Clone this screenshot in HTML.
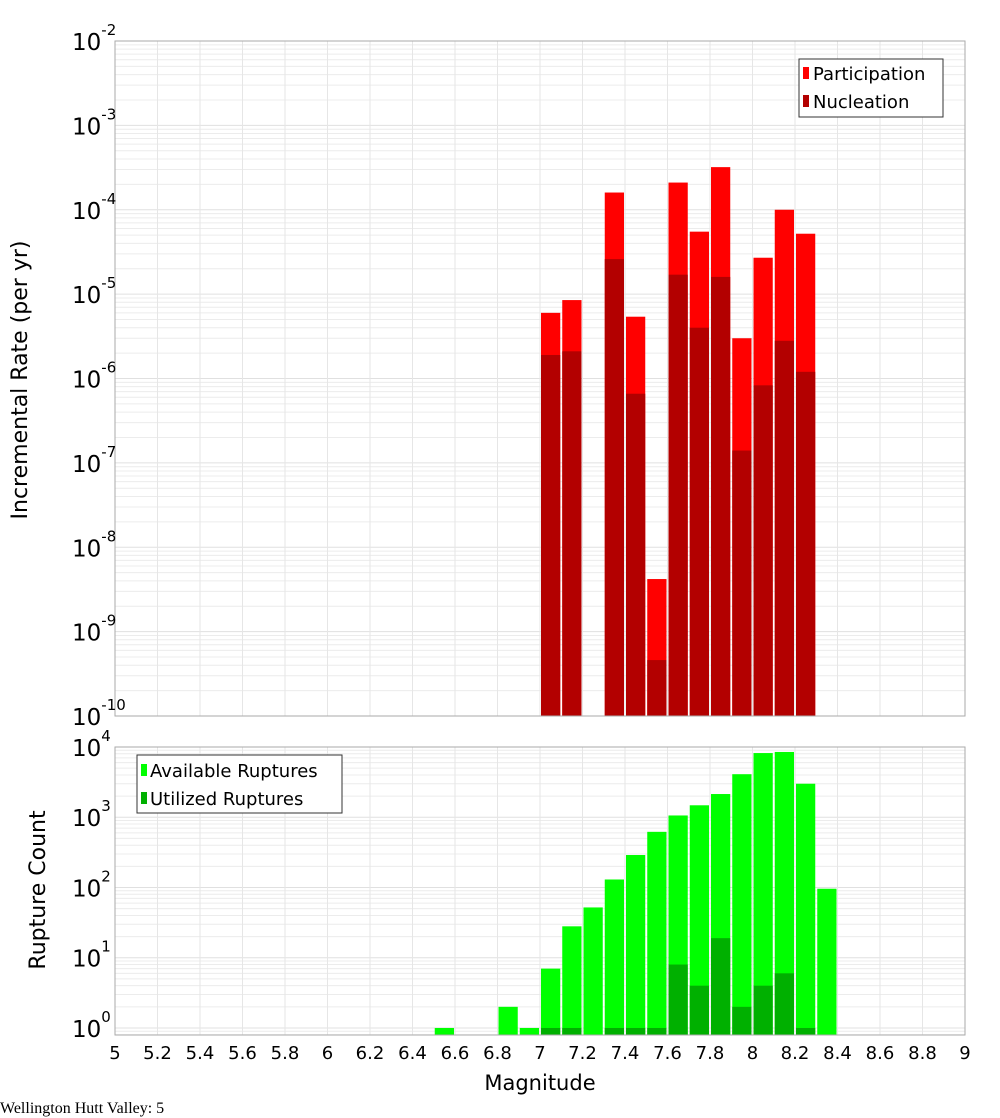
<!DOCTYPE html>
<html><head><meta charset="utf-8"><style>
body{margin:0;background:#fff;}
svg{display:block;font-family:"DejaVu Sans","Liberation Sans",sans-serif;}
</style></head><body>
<svg id="c" width="1000" height="1100"></svg>
<script>
const mags = [7.0,7.1,7.3,7.4,7.5,7.6,7.7,7.8,7.9,8.0,8.1,8.2];
const participation = [6e-6,8.5e-6,1.6e-4,5.4e-6,4.2e-9,2.1e-4,5.5e-5,3.2e-4,3e-6,2.7e-5,1e-4,5.2e-5];
const nucleation = [1.9e-6,2.1e-6,2.6e-5,6.6e-7,4.6e-10,1.7e-5,4e-6,1.6e-5,1.4e-7,8.3e-7,2.8e-6,1.2e-6];
const countMags = [6.5,6.8,6.9,7.0,7.1,7.2,7.3,7.4,7.5,7.6,7.7,7.8,7.9,8.0,8.1,8.2,8.3];
const available = [1,2,1,7,28,52,130,290,620,1060,1480,2140,4100,8200,8500,3000,96];
const utilizedMags = [7.0,7.1,7.3,7.4,7.5,7.6,7.7,7.8,7.9,8.0,8.1,8.2];
const utilized = [1,1,1,1,1,8,4,19,2,4,6,1];
const xTicks = [5,5.2,5.4,5.6,5.8,6,6.2,6.4,6.6,6.8,7,7.2,7.4,7.6,7.8,8,8.2,8.4,8.6,8.8,9];
const topExps = [-2,-3,-4,-5,-6,-7,-8,-9,-10];
const botExps = [4,3,2,1,0];

const svg=document.getElementById('c');const NS='http://www.w3.org/2000/svg';
function el(t,a,p){const e=document.createElementNS(NS,t);for(const k in a)e.setAttribute(k,a[k]);(p||svg).appendChild(e);return e;}
const X0=115,X1=965;
const x=m=>X0+(m-5)/4*(X1-X0);
const T={top:41,bot:716,lo:-10,hi:-2};
const B={top:747,bot:1035,lo:-0.1,hi:4.0};
const yT=v=>T.bot-(Math.log10(v)-T.lo)/(T.hi-T.lo)*(T.bot-T.top);
const yB=v=>B.bot-(Math.log10(v)-B.lo)/(B.hi-B.lo)*(B.bot-B.top);

function grid(P,yf){
  const g=el('g',{});
  for(let e=Math.floor(P.lo);e<P.hi;e++)for(let k=1;k<10;k++){const v=k*Math.pow(10,e);const lv=Math.log10(v);if(lv<P.lo||lv>P.hi)continue;const yy=yf(v);
    el('line',{x1:X0,x2:X1,y1:yy,y2:yy,stroke:k==1?'#e0e0e0':'#ececec','stroke-width':1},g);}
  xTicks.forEach(t=>{el('line',{x1:x(t),x2:x(t),y1:P.top,y2:P.bot,stroke:'#e6e6e6'},g);});
}
grid(T,yT);grid(B,yB);

function bar(m,v,yf,P,fill,name){const r=el('rect',{x:x(m)+1,y:yf(v),width:x(m+0.1)-x(m)-2,height:P.bot-yf(v),fill:fill});
  }
mags.forEach((m,i)=>bar(m,participation[i],yT,T,'#ff0000','participation-bar'));
mags.forEach((m,i)=>bar(m,nucleation[i],yT,T,'#b30000','nucleation-bar'));
countMags.forEach((m,i)=>bar(m,available[i],yB,B,'#00ff00','available-bar'));
utilizedMags.forEach((m,i)=>bar(m,utilized[i],yB,B,'#00b000','utilized-bar'));

[T,B].forEach(P=>el('rect',{x:X0,y:P.top,width:X1-X0,height:P.bot-P.top,fill:'none',stroke:'#aaa'}));

// y tick labels
topExps.forEach(e=>{const yy=yT(Math.pow(10,e));const t=el('text',{x:72,y:yy+9,'font-size':23,fill:'#000'});
  
  t.textContent='10';const s=el('tspan',{dy:-15,'font-size':15},t);s.textContent=String(e);});
botExps.forEach(e=>{const yy=yB(Math.pow(10,e));const t=el('text',{x:72,y:yy+9,'font-size':23,fill:'#000'});
  
  t.textContent='10';const s=el('tspan',{dy:-15,'font-size':15},t);s.textContent=String(e);});
xTicks.forEach(v=>{const t=el('text',{x:x(v),y:1059,'font-size':18,'text-anchor':'middle'});
  
  t.textContent=String(Math.round(v*10)/10);});
</script>
<text x="520" y="22" font-size="21" font-weight="bold" text-anchor="middle" font-family="DejaVu Sans, Liberation Sans, sans-serif">Wellington Hutt Valley: 5</text>
<script>
const s2=document.getElementById('c');
function add(h){s2.insertAdjacentHTML('beforeend',h);}
add('<text x="540" y="1090" font-size="21" text-anchor="middle">Magnitude</text>');
add('<text transform="translate(27,380) rotate(-90)" font-size="22" text-anchor="middle">Incremental Rate (per yr)</text>');
add('<text transform="translate(45,890) rotate(-90)" font-size="22" text-anchor="middle">Rupture Count</text>');
add('<g><rect x="799" y="59" width="144" height="58" fill="#fff" stroke="#333"/><rect x="803" y="67" width="6" height="12" fill="#ff0000"/><text x="813" y="80" font-size="18">Participation</text><rect x="803" y="95" width="6" height="12" fill="#b30000"/><text x="813" y="108" font-size="18">Nucleation</text></g>');
add('<g><rect x="137" y="755" width="205" height="58" fill="#fff" stroke="#333"/><rect x="141" y="764" width="6" height="12" fill="#00ff00"/><text x="150" y="777" font-size="18">Available Ruptures</text><rect x="141" y="792" width="6" height="12" fill="#00b000"/><text x="150" y="805" font-size="18">Utilized Ruptures</text></g>');
</script>
</svg>
</body></html>
